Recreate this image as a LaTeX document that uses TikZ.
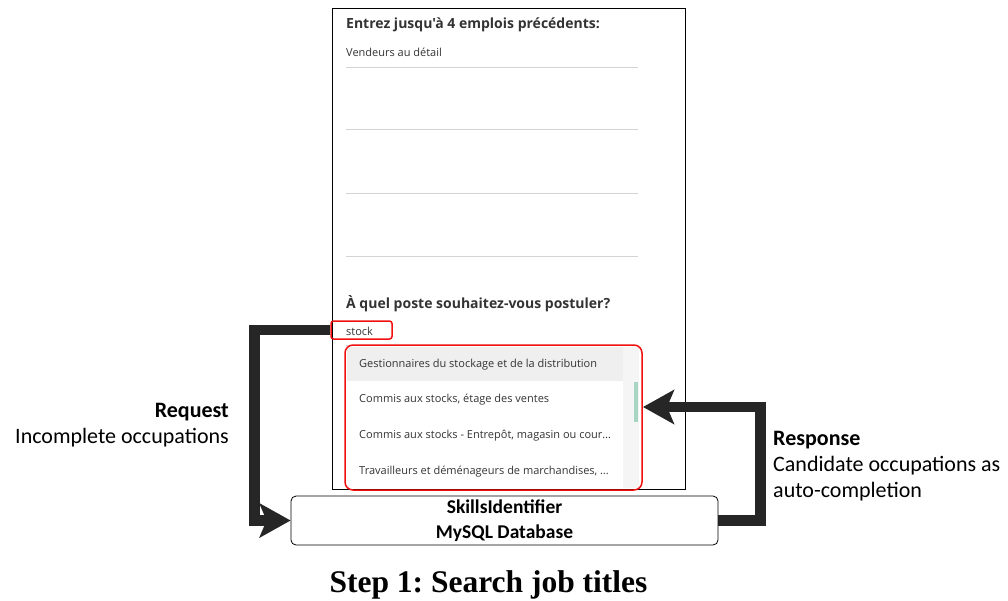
\documentclass[tikz,border=0pt]{standalone}
\usepackage{fontspec}
\setmainfont{Carlito}
\newfontfamily\uifont{Open Sans}
\newfontfamily\titlefont{Liberation Serif}
\usetikzlibrary{arrows.meta}
\frenchspacing
\definecolor{arrowc}{HTML}{262626}
\definecolor{uitext}{HTML}{333333}
\definecolor{divider}{HTML}{D4D4D4}
\definecolor{hilite}{HTML}{EFEFEF}
\definecolor{track}{HTML}{F5F5F5}
\definecolor{thumb}{HTML}{A9D6C2}
\definecolor{redbox}{HTML}{F01010}
\tikzset{
  bigarrow/.style={draw=arrowc, line width=10.5pt, line join=miter,
    -{Stealth[length=31pt,width=34pt,inset=7pt]}},
  uihead/.style={anchor=base west, inner sep=0pt, text=uitext,
    font=\uifont\bfseries\fontsize{14}{16}\selectfont},
  uiitem/.style={anchor=base west, inner sep=0pt, text=uitext,
    font=\uifont\fontsize{11}{13}\selectfont},
  redframe/.style={draw=redbox, line width=1.5pt},
  lbl/.style={inner sep=0pt, font=\fontsize{22}{26}\selectfont},
}
\begin{document}
\begin{tikzpicture}[x=1pt,y=-1pt]
\useasboundingbox (0,0) rectangle (1008,600);
% phone frame
\draw[line width=0.9pt, draw=black] (332,8) rectangle (685,489);
% first section
\node[uihead] (h1) at (346,28) {Entrez jusqu'à 4 emplois précédents:};
\node[uiitem] (prev1) at (346,56) {Vendeurs au détail};
\foreach \yy in {67,129,193,256}
  \draw[divider, line width=0.8pt] (346,\yy) -- (638,\yy);
% second section
\node[uihead] (h2) at (346,308) {À quel poste souhaitez-vous postuler?};
\draw[divider, line width=0.8pt] (346,345) -- (638,345);
\node[redframe, rounded corners=2.5pt, minimum width=61pt, minimum height=18pt, inner sep=0pt] (stock) at (361.5,330) {};
\node[uiitem] (stocktxt) at (346,335) {stock};
% dropdown
\fill[track] (623,347) rectangle (639,488);
\fill[hilite] (347,347) rectangle (623,381);
\fill[thumb] (634,382) rectangle (637.5,422);
\node[uiitem] (it1) at (359,367) {Gestionnaires du stockage et de la distribution};
\node[uiitem] (it2) at (359,402.5) {Commis aux stocks, étage des ventes};
\node[uiitem] (it3) at (359,438) {Commis aux stocks - Entrepôt, magasin ou cour…};
\node[uiitem] (it4) at (359,474) {Travailleurs et déménageurs de marchandises, …};
\node[redframe, rounded corners=8pt, minimum width=297pt, minimum height=145pt, inner sep=0pt] (drop) at (493.5,417.5) {};
% database
\node[draw=black, line width=0.8pt, rounded corners=5pt, minimum width=427pt, minimum height=49pt,
  inner sep=0pt, align=center, font=\bfseries\fontsize{19.5}{25}\selectfont] (db) at (504.5,520.5)
  {SkillsIdentifier\\MySQL Database};
% labels
\node[lbl, anchor=east, align=right] (req) at (229,425) {\textbf{Request}\\Incomplete occupations};
\node[lbl, anchor=west, align=left] (resp) at (773,466.5) {\textbf{Response}\\Candidate occupations as\\auto-completion};
% arrows
\coordinate (respin) at (643,407);
\draw[bigarrow] (stock.west) -- ++(-76,0) |- (db.west);
\draw[bigarrow] (db.east) -- ++(42,0) |- (respin);
% title
\node[anchor=base, inner sep=0pt, font=\titlefont\bfseries\fontsize{31.5}{36}\selectfont] (title) at (488.5,592) {Step 1: Search job titles};
\end{tikzpicture}
\end{document}
